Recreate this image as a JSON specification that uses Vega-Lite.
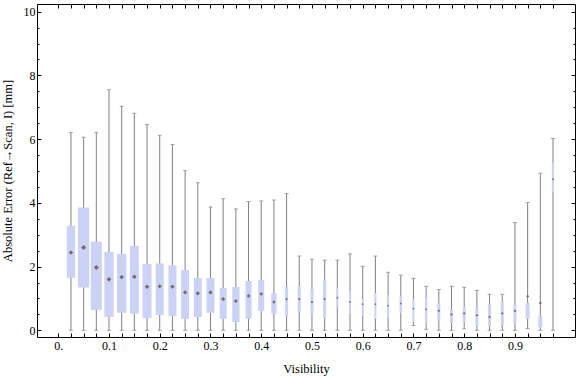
{
  "$schema": "https://vega.github.io/schema/vega-lite/v6.json",
  "width": 538,
  "height": 333,
  "autosize": {"type": "none"},
  "padding": {"left": 37, "top": 4, "right": 1, "bottom": 40},
  "background": "white",
  "config": {
    "view": {"stroke": "#000000", "strokeWidth": 1},
    "font": "Liberation Serif",
    "axis": {
      "domain": false,
      "grid": false,
      "tickColor": "#000000",
      "labelColor": "#000000",
      "labelFont": "Liberation Serif",
      "labelFontSize": 12,
      "titleFont": "Liberation Serif",
      "titleFontSize": 12.5,
      "titleFontWeight": "normal",
      "titleColor": "#000000",
      "labelOverlap": false,
      "labelFlush": false
    }
  },
  "data": {
    "values": [
      {"v": 0.025, "lo": 0, "q1": 1.65, "q3": 3.28, "hi": 6.21, "mean": 2.44, "n": 830},
      {"v": 0.05, "lo": 0, "q1": 1.34, "q3": 3.85, "hi": 6.06, "mean": 2.6, "n": 1130},
      {"v": 0.075, "lo": 0, "q1": 0.64, "q3": 2.78, "hi": 6.21, "mean": 1.97, "n": 1100},
      {"v": 0.1, "lo": 0, "q1": 0.42, "q3": 2.46, "hi": 7.55, "mean": 1.6, "n": 930},
      {"v": 0.125, "lo": 0, "q1": 0.55, "q3": 2.4, "hi": 7.03, "mean": 1.67, "n": 930},
      {"v": 0.15, "lo": 0, "q1": 0.52, "q3": 2.65, "hi": 6.81, "mean": 1.68, "n": 900},
      {"v": 0.175, "lo": 0, "q1": 0.39, "q3": 2.08, "hi": 6.46, "mean": 1.37, "n": 900},
      {"v": 0.2, "lo": 0, "q1": 0.48, "q3": 2.1, "hi": 6.12, "mean": 1.38, "n": 800},
      {"v": 0.225, "lo": 0, "q1": 0.45, "q3": 2.04, "hi": 5.83, "mean": 1.37, "n": 800},
      {"v": 0.25, "lo": 0, "q1": 0.36, "q3": 1.89, "hi": 5.01, "mean": 1.19, "n": 800},
      {"v": 0.275, "lo": 0, "q1": 0.42, "q3": 1.64, "hi": 4.63, "mean": 1.16, "n": 800},
      {"v": 0.3, "lo": 0, "q1": 0.55, "q3": 1.64, "hi": 3.87, "mean": 1.19, "n": 800},
      {"v": 0.325, "lo": 0, "q1": 0.36, "q3": 1.33, "hi": 4.13, "mean": 0.98, "n": 700},
      {"v": 0.35, "lo": 0, "q1": 0.26, "q3": 1.36, "hi": 3.81, "mean": 0.92, "n": 730},
      {"v": 0.375, "lo": 0, "q1": 0.36, "q3": 1.55, "hi": 4.04, "mean": 1.08, "n": 600},
      {"v": 0.4, "lo": 0, "q1": 0.61, "q3": 1.58, "hi": 4.06, "mean": 1.14, "n": 600},
      {"v": 0.425, "lo": 0, "q1": 0.52, "q3": 1.17, "hi": 4.09, "mean": 0.89, "n": 530},
      {"v": 0.45, "lo": 0, "q1": 0.45, "q3": 1.36, "hi": 4.29, "mean": 0.98, "n": 300},
      {"v": 0.475, "lo": 0, "q1": 0.58, "q3": 1.39, "hi": 2.33, "mean": 0.98, "n": 300},
      {"v": 0.5, "lo": 0, "q1": 0.52, "q3": 1.28, "hi": 2.23, "mean": 0.89, "n": 300},
      {"v": 0.525, "lo": 0, "q1": 0.39, "q3": 1.6, "hi": 2.2, "mean": 0.98, "n": 300},
      {"v": 0.55, "lo": 0, "q1": 0.71, "q3": 1.33, "hi": 2.2, "mean": 1.02, "n": 200},
      {"v": 0.575, "lo": 0, "q1": 0.52, "q3": 1.23, "hi": 2.4, "mean": 0.89, "n": 200},
      {"v": 0.6, "lo": 0, "q1": 0.45, "q3": 0.98, "hi": 2.01, "mean": 0.82, "n": 200},
      {"v": 0.625, "lo": 0, "q1": 0.36, "q3": 1.17, "hi": 2.33, "mean": 0.82, "n": 200},
      {"v": 0.65, "lo": 0, "q1": 0.39, "q3": 1.11, "hi": 1.82, "mean": 0.77, "n": 200},
      {"v": 0.675, "lo": 0, "q1": 0.55, "q3": 1.07, "hi": 1.73, "mean": 0.84, "n": 230},
      {"v": 0.7, "lo": 0.15, "q1": 0.26, "q3": 0.98, "hi": 1.63, "mean": 0.68, "n": 200},
      {"v": 0.725, "lo": 0.03, "q1": 0.23, "q3": 1.04, "hi": 1.38, "mean": 0.66, "n": 230},
      {"v": 0.75, "lo": 0, "q1": 0.29, "q3": 0.85, "hi": 1.28, "mean": 0.61, "n": 300},
      {"v": 0.775, "lo": 0, "q1": 0.23, "q3": 0.66, "hi": 1.38, "mean": 0.5, "n": 300},
      {"v": 0.8, "lo": 0.05, "q1": 0.26, "q3": 0.73, "hi": 1.35, "mean": 0.53, "n": 300},
      {"v": 0.825, "lo": 0, "q1": 0.14, "q3": 0.69, "hi": 1.25, "mean": 0.47, "n": 300},
      {"v": 0.85, "lo": 0, "q1": 0.14, "q3": 0.82, "hi": 1.13, "mean": 0.42, "n": 300},
      {"v": 0.875, "lo": 0, "q1": 0.15, "q3": 0.88, "hi": 1.13, "mean": 0.53, "n": 300},
      {"v": 0.9, "lo": 0, "q1": 0.21, "q3": 0.82, "hi": 3.38, "mean": 0.61, "n": 300},
      {"v": 0.925, "lo": 0.05, "q1": 0.36, "q3": 0.87, "hi": 4.01, "mean": 1.07, "n": 400},
      {"v": 0.95, "lo": 0, "q1": 0.1, "q3": 0.44, "hi": 4.93, "mean": 0.86, "n": 400},
      {"v": 0.975, "lo": 0, "q1": 4.34, "q3": 5.26, "hi": 6.02, "mean": 4.74, "n": 230}
    ]
  },
  "layer": [
    {
      "mark": {"type": "rule", "color": "#808080", "strokeWidth": 1},
      "encoding": {
        "x": {
          "field": "v", "type": "quantitative",
          "scale": {"domain": [-0.032, 1.0085], "nice": false, "zero": false},
          "axis": {
            "orient": "bottom",
            "title": "Visibility",
            "titlePadding": 11,
            "values": [0, 0.025, 0.05, 0.075, 0.1, 0.125, 0.15, 0.175, 0.2, 0.225, 0.25, 0.275, 0.3, 0.325, 0.35, 0.375, 0.4, 0.425, 0.45, 0.475, 0.5, 0.525, 0.55, 0.575, 0.6, 0.625, 0.65, 0.675, 0.7, 0.725, 0.75, 0.775, 0.8, 0.825, 0.85, 0.875, 0.9, 0.925, 0.95, 0.975],
            "tickSize": -4,
            "labelPadding": 7,
            "labelExpr": "round(datum.value * 40) % 4 == 0 ? (datum.value == 0 ? '0.' : format(datum.value, '.1f')) : ''"
          }
        },
        "y": {
          "field": "lo", "type": "quantitative",
          "scale": {"domain": [-0.21, 10.24], "nice": false, "zero": false},
          "axis": {
            "orient": "left",
            "title": "Absolute Error (Ref→Scan, I) [mm]",
            "titlePadding": 9,
            "values": [0, 0.5, 1, 1.5, 2, 2.5, 3, 3.5, 4, 4.5, 5, 5.5, 6, 6.5, 7, 7.5, 8, 8.5, 9, 9.5, 10],
            "tickSize": {"condition": {"test": "datum.value % 2 == 0", "value": -4}, "value": -2},
            "labelPadding": 6,
            "labelExpr": "datum.value % 2 == 0 ? format(datum.value, 'd') : ''"
          }
        },
        "y2": {"field": "hi"}
      }
    },
    {
      "mark": {"type": "bar", "color": "#ccd2f5"},
      "encoding": {
        "x": {
          "field": "v", "type": "quantitative",
          "scale": {"domain": [-0.032, 1.0085], "nice": false, "zero": false},
          "axis": {
            "orient": "top",
            "title": null,
            "labels": false,
            "values": [0, 0.025, 0.05, 0.075, 0.1, 0.125, 0.15, 0.175, 0.2, 0.225, 0.25, 0.275, 0.3, 0.325, 0.35, 0.375, 0.4, 0.425, 0.45, 0.475, 0.5, 0.525, 0.55, 0.575, 0.6, 0.625, 0.65, 0.675, 0.7, 0.725, 0.75, 0.775, 0.8, 0.825, 0.85, 0.875, 0.9, 0.925, 0.95, 0.975],
            "tickSize": -4
          }
        },
        "y": {
          "field": "q1", "type": "quantitative",
          "scale": {"domain": [-0.21, 10.24], "nice": false, "zero": false},
          "axis": {
            "orient": "right",
            "title": null,
            "labels": false,
            "values": [0, 0.5, 1, 1.5, 2, 2.5, 3, 3.5, 4, 4.5, 5, 5.5, 6, 6.5, 7, 7.5, 8, 8.5, 9, 9.5, 10],
            "tickSize": {"condition": {"test": "datum.value % 2 == 0", "value": -4}, "value": -2}
          }
        },
        "y2": {"field": "q3"},
        "size": {"field": "n", "type": "quantitative", "scale": {"domain": [0, 1130], "range": [0, 11.3]}, "legend": null}
      }
    },
    {
      "mark": {"type": "tick", "orient": "horizontal", "color": "#808080", "size": 4, "thickness": 1},
      "encoding": {
        "x": {"field": "v", "type": "quantitative", "axis": null},
        "y": {"field": "lo", "type": "quantitative", "axis": null}
      }
    },
    {
      "mark": {"type": "tick", "orient": "horizontal", "color": "#808080", "size": 4, "thickness": 1},
      "encoding": {
        "x": {"field": "v", "type": "quantitative", "axis": null},
        "y": {"field": "hi", "type": "quantitative", "axis": null}
      }
    },
    {
      "mark": {"type": "point", "shape": "diamond", "filled": true, "color": "#6e6e6e", "opacity": 1},
      "encoding": {
        "x": {"field": "v", "type": "quantitative", "axis": null},
        "y": {"field": "mean", "type": "quantitative", "axis": null},
        "size": {"field": "n", "type": "quantitative", "scale": {"domain": [0, 1130], "range": [0, 26]}, "legend": null}
      }
    }
  ],
  "resolve": {"axis": {"x": "independent", "y": "independent"}, "scale": {"size": "independent"}}
}
